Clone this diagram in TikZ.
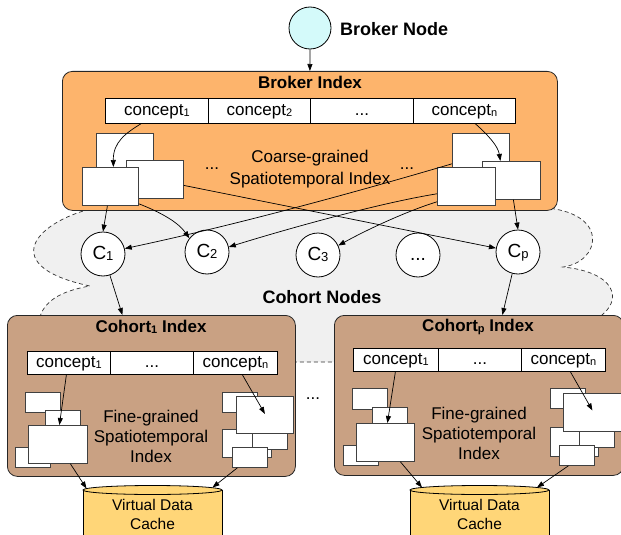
\documentclass[tikz,border=0pt]{standalone}
\usepackage{fontspec}
\setmainfont{Liberation Sans}
\usetikzlibrary{arrows.meta}
\definecolor{brokerfill}{RGB}{253,180,108}
\definecolor{cohortfill}{RGB}{201,161,131}
\definecolor{cylfill}{RGB}{255,214,120}
\definecolor{bnfill}{RGB}{212,250,250}
\definecolor{cloudfill}{RGB}{240,240,240}
\newcommand{\sbs}[1]{\raisebox{-1pt}{\fontsize{11}{11}\selectfont #1}}
\newcommand{\csb}[1]{\raisebox{-1pt}{\fontsize{13}{13}\selectfont #1}}
\newcommand{\mybox}[7][wbox]{\node[#1,anchor=north west,minimum width=#5pt,minimum height=#6pt] (#2) at (#3,#4) {#7};}
\tikzset{
  lbl/.style={font=\fontsize{17}{20}\selectfont, inner sep=0},
  ttl/.style={font=\fontsize{17}{20}\selectfont\bfseries, inner sep=0},
  bigttl/.style={font=\fontsize{18}{20}\selectfont\bfseries, inner sep=0},
  cell/.style={draw=black, fill=white, inner sep=0, line width=0.8pt, font=\fontsize{17}{20}\selectfont, text height=12pt, text depth=3.5pt},
  wbox/.style={draw=black!75, fill=white, inner sep=0, line width=0.8pt},
  bigbox/.style={draw=black!85, rounded corners=10pt, inner sep=0, line width=0.8pt},
  cnode/.style={circle, draw=black, fill=white, minimum size=44pt, inner sep=0, line width=0.8pt, font=\fontsize{19}{20}\selectfont, text height=13pt, text depth=3pt},
  arr/.style={-{Triangle[length=7pt,width=5pt]}, line width=0.7pt},
  cyltxt/.style={font=\fontsize{15.5}{19}\selectfont, align=center, inner sep=0},
  cylbody/.style={fill=cylfill},
}
\begin{document}
\begin{tikzpicture}[x=1pt,y=-1pt]
\useasboundingbox (0,0) rectangle (621,535);
\clip (0,0) rectangle (621,535);

% cloud of cohort nodes
\path[draw=black!80, fill=cloudfill, dash pattern=on 4pt off 3pt, line width=0.7pt]
  (120,195) -- (110,205) .. controls (40,215) and (-10,265) .. (90,286)
  .. controls (55,292) and (38,305) .. (38,330)
  .. controls (38,362) and (80,362) .. (150,362) -- (450,362)
  .. controls (590,362) and (598,340) .. (598,318)
  .. controls (625,300) and (615,272) .. (563,267)
  .. controls (600,262) and (610,215) .. (548,208) -- (548,195) -- cycle;
\node[bigttl] (cohortnodes) at (322,297) {Cohort Nodes};

% broker node
\node[circle, draw=black, fill=bnfill, minimum size=42pt, inner sep=0, line width=0.8pt] (bnode) at (310,28) {};
\node[bigttl, anchor=west] (bnlabel) at (340,29) {Broker Node};

% broker index
\mybox[bigbox, fill=brokerfill]{bidx}{62}{71}{495}{139}{}
\node[ttl] (bititle) at (310,82) {Broker Index};
\mybox[cell]{bc1}{105}{98}{103}{25}{concept\sbs{1}}
\mybox[cell]{bc2}{208}{98}{102}{25}{concept\sbs{2}}
\mybox[cell]{bc3}{310}{98}{103}{25}{...}
\mybox[cell]{bcn}{413}{98}{102}{25}{concept\sbs{n}}
\mybox{bA}{96}{133}{57}{35}{}
\mybox{bB}{126}{160}{57}{38}{}
\mybox{bC}{82}{167}{56}{38}{}
\mybox{bD}{452}{133}{57}{35}{}
\mybox{bE}{482}{161}{58}{38}{}
\mybox{bF}{437}{167}{58}{38}{}
\node[lbl, anchor=base] (bdots1) at (212,169) {...};
\node[lbl, anchor=base] (bdots2) at (407,169) {...};
\node[lbl, align=center, font=\fontsize{17}{22}\selectfont] (coarse) at (310,169) {Coarse-grained\\Spatiotemporal Index};

% cohort 1 index
\mybox[bigbox, fill=cohortfill]{kone}{7}{315}{288}{161}{}
\node[ttl] (konetitle) at (151,327) {Cohort\sbs{1} Index};
\mybox[cell]{kac1}{27}{351}{83}{23}{concept\sbs{1}}
\mybox[cell]{kac2}{110}{351}{83}{23}{...}
\mybox[cell]{kacn}{193}{351}{84}{23}{concept\sbs{n}}
\mybox{kaa}{25}{392}{35}{20}{}
\mybox{kab}{45}{410}{35}{16}{}
\mybox{kad}{15}{447}{35}{20}{}
\mybox{kac}{28}{425}{59}{38}{}
\mybox{kae}{222}{392}{35}{20}{}
\mybox{kag}{222}{429}{49}{28}{}
\mybox{kaf}{236}{396}{57}{37}{}
\mybox{kah}{252}{433}{35}{16}{}
\mybox{kai}{232}{447}{35}{20}{}
\node[lbl, align=center, font=\fontsize{17}{20}\selectfont] (kafine) at (151,436) {Fine-grained\\Spatiotemporal\\Index};

% cohort p index
\mybox[bigbox, fill=cohortfill]{kp}{334}{315}{289}{160}{}
\node[ttl] (kptitle) at (478,327) {Cohort\sbs{p} Index};
\mybox[cell]{kpc1}{353}{348}{85}{23}{concept\sbs{1}}
\mybox[cell]{kpc2}{438}{348}{83}{23}{...}
\mybox[cell]{kpcn}{521}{348}{84}{23}{concept\sbs{n}}
\mybox{kpa}{352}{388}{35}{21}{}
\mybox{kpb}{372}{407}{35}{16}{}
\mybox{kpd}{343}{445}{35}{20}{}
\mybox{kpc}{356}{423}{58}{38}{}
\mybox{kpe}{550}{388}{35}{20}{}
\mybox{kpg}{550}{427}{48}{29}{}
\mybox{kpf}{563}{393}{58}{38}{}
\mybox{kph}{579}{431}{35}{16}{}
\mybox{kpi}{559}{445}{35}{20}{}
\node[lbl, align=center, font=\fontsize{17}{20}\selectfont] (kpfine) at (479,433) {Fine-grained\\Spatiotemporal\\Index};

\node[lbl, anchor=base] (middots) at (313,399) {...};

% cylinders
\fill[cylbody] (83,490) rectangle (222,550);
\draw[line width=0.8pt] (83,490) -- (83,550) (222,490) -- (222,550);
\draw[line width=0.8pt, fill=cylfill] (152.5,490) ellipse [x radius=69.5pt, y radius=4.5pt];
\node[inner sep=0, minimum width=139pt, minimum height=48pt, anchor=north] (cylone) at (152.5,487) {};
\node[cyltxt] (cylonetxt) at (152.5,514) {Virtual Data\\Cache};

\fill[cylbody] (410,490) rectangle (549,550);
\draw[line width=0.8pt] (410,490) -- (410,550) (549,490) -- (549,550);
\draw[line width=0.8pt, fill=cylfill] (479.5,490) ellipse [x radius=69.5pt, y radius=4.5pt];
\node[inner sep=0, minimum width=139pt, minimum height=48pt, anchor=north] (cylp) at (479.5,487) {};
\node[cyltxt] (cylptxt) at (479.5,514) {Virtual Data\\Cache};

% cohort node circles
\node[cnode] (c1) at (103,254) {C\csb{1}};
\node[cnode] (c2) at (207,252) {C\csb{2}};
\node[cnode] (c3) at (318,255) {C\csb{3}};
\node[cnode] (cdots) at (418,255) {...};
\node[cnode] (cp) at (518,252) {C\csb{p}};

% connectors
\draw[arr] (bnode.south) -- (bidx.north);
\draw[arr] ([xshift=-16pt]bc1.south) .. controls (126,133) and (113,142) .. ([xshift=3pt]bC.north);
\draw[arr] ([xshift=11pt]bcn.south) .. controls (488,135) and (498,146) .. ([xshift=-11pt]bE.north);
\draw[arr] ([xshift=-3pt]bC.south) -- (c1.north);
\draw[arr] ([yshift=2pt]bC.south east) .. controls (160,212) and (178,222) .. (c2.142);
\draw[arr] ([yshift=5pt]bD.south west) .. controls (380,185) and (250,222) .. (c1.14);
\draw[arr] ([yshift=12pt]bF.south west) .. controls (380,203) and (290,228) .. (c2.13);
\draw[arr] ([yshift=4pt]bF.south west) .. controls (410,210) and (370,228) .. (c3.25);
\draw[arr] ([yshift=-6pt]bB.east) -- (cp.170);
\draw[arr] ([xshift=2pt]bE.south) -- (cp.north);
\draw[arr] (c1.-72) -- ([xshift=-29pt]kone.north);
\draw[arr] (cp.-105) -- ([xshift=23.5pt]kp.north);

\draw[arr] ([xshift=-2.5pt]kac1.south) -- ([xshift=1.5pt]kac.north);
\draw[arr] ([xshift=7pt]kacn.south) -- ([yshift=1pt]kaf.center);
\draw[arr] ([xshift=12.5pt]kac.south) -- ([xshift=-66pt,yshift=-1.5pt]cylone.north);
\draw[arr] ([xshift=-12.5pt]kai.south) -- ([xshift=60pt,yshift=-0.5pt]cylone.north);

\draw[arr] ([xshift=-0.5pt]kpc1.south) -- ([xshift=2pt]kpc.north);
\draw[arr] ([xshift=7pt]kpcn.south) -- ([yshift=2pt]kpf.center);
\draw[arr] ([xshift=15pt]kpc.south) -- ([xshift=-57.5pt,yshift=-0.5pt]cylp.north);
\draw[arr] ([xshift=-8.5pt]kpi.south) -- ([xshift=57.5pt,yshift=-0.5pt]cylp.north);
\end{tikzpicture}
\end{document}
